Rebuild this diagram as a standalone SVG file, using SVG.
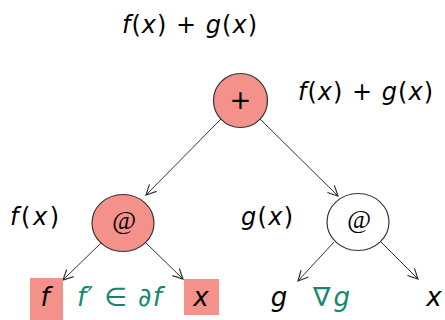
<svg xmlns="http://www.w3.org/2000/svg" width="445" height="320" viewBox="0 0 445 320">
<style>
.m{font-family:"DejaVu Sans",sans-serif;font-style:italic;fill:#000}
.c{text-anchor:middle}
.u{font-style:normal}
.at{font-family:"Liberation Serif",serif;font-style:italic;font-size:26px;text-anchor:middle;fill:#000}
.g{fill:#16876c}
.e{stroke:#333;stroke-width:1;fill:none;marker-end:url(#a)}
.n{stroke:#333;stroke-width:1.2}
</style>
<defs>
<marker id="a" viewBox="0 0 12 12" refX="11" refY="6" markerWidth="12" markerHeight="12" markerUnits="userSpaceOnUse" orient="auto">
<path d="M1,1 L11,6 L1,11" fill="none" stroke="#333" stroke-width="1.2"/>
</marker>
</defs>
<rect width="445" height="320" fill="#fff"/>
<text class="m" x="122" y="33" font-size="24" textLength="135" lengthAdjust="spacing">f<tspan class="u">(</tspan>x<tspan class="u">) + </tspan>g<tspan class="u">(</tspan>x<tspan class="u">)</tspan></text>
<g id="connectors">
<line class="e" x1="221" y1="119" x2="146" y2="195"/>
<line class="e" x1="260" y1="119" x2="338" y2="196"/>
<line class="e" x1="101" y1="243" x2="63" y2="280"/>
<line class="e" x1="146" y1="243" x2="183" y2="279"/>
<line class="e" x1="334" y1="242" x2="298" y2="281"/>
<line class="e" x1="381" y1="242" x2="418" y2="279"/>
</g>
<g id="plus">
<circle class="n" cx="240.5" cy="100.5" r="27" fill="#f4918a"/>
<text class="m u c" x="240.5" y="109" font-size="26">+</text>
<text class="m" x="298" y="100" font-size="24" textLength="135" lengthAdjust="spacing">f<tspan class="u">(</tspan>x<tspan class="u">) + </tspan>g<tspan class="u">(</tspan>x<tspan class="u">)</tspan></text>
</g>
<g id="appF">
<ellipse class="n" cx="123" cy="223" rx="31" ry="28.5" fill="#f4918a"/>
<text class="at" x="124" y="229">@</text>
<text class="m" x="10" y="225" font-size="24" textLength="49" lengthAdjust="spacing">f<tspan class="u">(</tspan>x<tspan class="u">)</tspan></text>
</g>
<g id="appG">
<ellipse class="n" cx="358" cy="222" rx="31" ry="28.5" fill="#fff"/>
<text class="at" x="359" y="228">@</text>
<text class="m" x="241" y="225" font-size="24" textLength="52" lengthAdjust="spacing">g<tspan class="u">(</tspan>x<tspan class="u">)</tspan></text>
</g>
<g id="leafF">
<rect x="30" y="278" width="33" height="42" fill="#f4918a"/>
<text class="m c" x="45" y="306" font-size="26">f</text>
</g>
<text class="m g" x="77" y="306" font-size="26" textLength="85" lengthAdjust="spacing">f<tspan class="u">′</tspan> ∈ ∂f</text>
<g id="leafX1">
<rect x="184" y="279" width="35" height="36" fill="#f4918a"/>
<text class="m c" x="201" y="306" font-size="26">x</text>
</g>
<g id="leafG">
<text class="m c" x="279" y="306" font-size="26">g</text>
</g>
<text class="m g" x="313" y="306" font-size="26" textLength="37" lengthAdjust="spacing"><tspan class="u">∇</tspan>g</text>
<g id="leafX2">
<text class="m c" x="434" y="306" font-size="26">x</text>
</g>
</svg>
